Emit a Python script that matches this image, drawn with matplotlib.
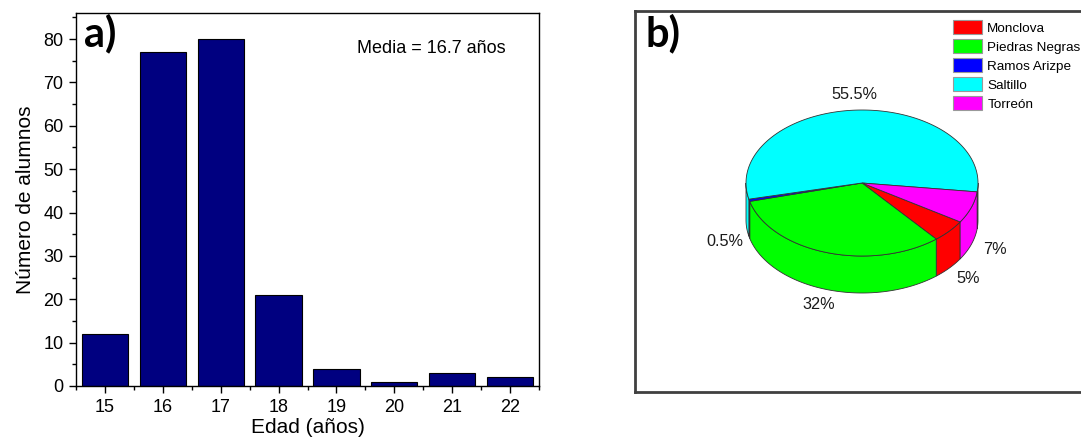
import numpy as np
import matplotlib
matplotlib.use("Agg")
import matplotlib.pyplot as plt
from matplotlib.patches import Polygon, Patch
from matplotlib.ticker import MultipleLocator

plt.rcParams['font.family'] = ['Liberation Sans', 'DejaVu Sans']

# ---- data ----
ages = [15, 16, 17, 18, 19, 20, 21, 22]
students = [12, 77, 80, 21, 4, 1, 3, 2]
mean_text = "Media = 16.7 años"

cities = ["Monclova", "Piedras Negras", "Ramos Arizpe", "Saltillo", "Torreón"]
city_pct = [5, 32, 0.5, 55.5, 7]
city_labels = ["5%", "32%", "0.5%", "55.5%", "7%"]
city_colors = ["#ff0000", "#00ff00", "#0000ff", "#00ffff", "#ff00ff"]

W, H = 1081, 443
fig = plt.figure(figsize=(W / 100, H / 100), dpi=100)

# ---- panel a ----
axA = fig.add_axes([76 / W, 1 - 386 / H, 463 / W, 373 / H])
axA.bar(ages, students, width=0.8, color="#000080", edgecolor="black", linewidth=0.8)
axA.set_xlim(14.5, 22.5)
axA.set_ylim(0, 86)
axA.set_xticks(ages)
axA.xaxis.set_minor_locator(MultipleLocator(0.5))
axA.yaxis.set_major_locator(MultipleLocator(10))
axA.yaxis.set_minor_locator(MultipleLocator(5))
axA.tick_params(which='both', direction='out', top=False, right=False, width=1, colors='black')
axA.tick_params(which='major', length=5, labelsize=13, pad=4)
axA.tick_params(which='minor', length=3)
for s in axA.spines.values():
    s.set_linewidth(1.0)
axA.set_xlabel("Edad (años)", fontsize=15, labelpad=2)
axA.set_ylabel("Número de alumnos", fontsize=15, labelpad=6)
axA.text(0.607, 0.906, mean_text, transform=axA.transAxes, fontsize=13,
         ha='left', va='center')
fig.text(84 / W, 1 - 46 / H, "a)", fontsize=30, fontweight='bold', family='Lato',
         ha='left', va='baseline')

# ---- panel b ----
axB = fig.add_axes([635 / W, 1 - 392 / H, 470 / W, 381 / H])
axB.set_xlim(635, 1105)
axB.set_ylim(392, 11)
axB.set_xticks([])
axB.set_yticks([])
for s in axB.spines.values():
    s.set_linewidth(2)
    s.set_color("#404040")

cx, cy, rx, ry, depth = 862, 183, 116, 73, 37
start = -32.2
edge = "#333333"
lw = 0.6


def arc(a0, a1, n=80, dz=0.0):
    t = np.radians(np.linspace(a0, a1, n))
    return np.column_stack([cx + rx * np.cos(t), cy - ry * np.sin(t) + dz])


angles = []
cum = 0.0
for v in city_pct:
    t0 = start - cum * 3.6
    t1 = t0 - v * 3.6
    angles.append((t0, t1))
    cum += v

# side walls (front half only)
for (t0, t1), col in zip(angles, city_colors):
    lo, hi = t1, t0
    for m in range(-2, 2):
        vlo, vhi = -180 - 360 * m, 0 - 360 * m
        a, b = max(lo, vlo), min(hi, vhi)
        if b > a:
            top = arc(a, b)
            bot = arc(b, a, dz=depth)
            axB.add_patch(Polygon(np.vstack([top, bot]), closed=True, facecolor=col,
                                  edgecolor=edge, linewidth=lw, zorder=2))

# top wedges
for (t0, t1), col in zip(angles, city_colors):
    pts = np.vstack([[cx, cy], arc(t0, t1, n=200)])
    axB.add_patch(Polygon(pts, closed=True, facecolor=col, edgecolor=edge,
                          linewidth=lw, zorder=3))

# labels
for (t0, t1), lab in zip(angles, city_labels):
    tm = np.radians((t0 + t1) / 2)
    lx = cx + 1.22 * rx * np.cos(tm)
    ly = cy - 1.22 * ry * np.sin(tm) + (depth if np.sin(tm) < 0 else 0)
    axB.text(lx, ly, lab, fontsize=11.7, ha='center', va='center', color='#1a1a1a', zorder=4)

handles = [Patch(facecolor=c, edgecolor="#999999", linewidth=0.8) for c in city_colors]
axB.legend(handles, cities, loc='upper left', bbox_to_anchor=(953 / W, 1 - 20 / H),
           bbox_transform=fig.transFigure, frameon=False, fontsize=9.7,
           handlelength=2.15, handleheight=1.25, labelspacing=0.32, handletextpad=0.4,
           borderpad=0, borderaxespad=0)

fig.text(646 / W, 1 - 46 / H, "b)", fontsize=30, fontweight='bold', family='Lato',
         ha='left', va='baseline')

fig.savefig("out.png", dpi=100)
